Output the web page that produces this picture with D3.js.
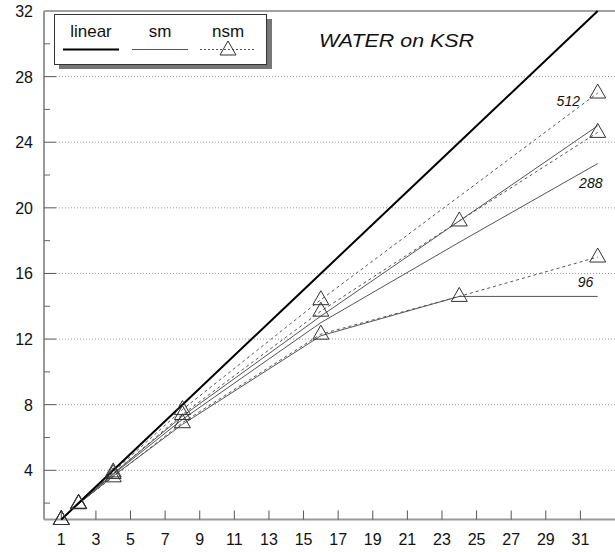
<!DOCTYPE html>
<html>
<head>
<meta charset="utf-8">
<script src="https://cdn.jsdelivr.net/npm/d3@7"></script>
<style>
  html, body { margin: 0; padding: 0; background: #fff; }
  svg { display: block; font-family: "Liberation Sans", Arial, Helvetica, sans-serif; }
</style>
</head>
<body>
<svg id="chart" width="615" height="552"></svg>
<script>
// Processor counts at which speedup was measured
const procs = [1, 2, 4, 8, 16, 24, 32];
const procsNsm512 = [1, 2, 4, 8, 16, 32];

// Ideal speedup
const linear = [1, 2, 4, 8, 16, 24, 32];

// Shared-memory (sm) speedups per problem size
const sm512 = [1, 1.97, 3.8, 7.3, 13.4, 19.2, 25.0];
const sm288 = [1, 1.96, 3.75, 7.1, 13.0, 17.9, 22.7];
const sm96  = [1, 1.95, 3.65, 6.8, 12.2, 14.6, 14.6];

// Non-shared-memory (nsm) speedups per problem size
const nsm512 = [1, 1.99, 3.9, 7.7, 14.4, 27.0];
const nsm288 = [1, 1.98, 3.8, 7.4, 13.7, 19.2, 24.6];
const nsm96  = [1, 1.96, 3.6, 6.9, 12.3, 14.6, 17.0];

// Axis ticks
const xTickLabels = [1, 3, 5, 7, 9, 11, 13, 15, 17, 19, 21, 23, 25, 27, 29, 31];
const yMajorTicks = [4, 8, 12, 16, 20, 24, 28];
const yMinorTicks = [2, 6, 10, 14, 18, 22, 26, 30];
const yLabels = [4, 8, 12, 16, 20, 24, 28, 32];

// Problem-size annotations: [text, x, y]
const sizeLabels = [["512", 30.3, 26.2], ["288", 31.6, 21.2], ["96", 31.3, 15.15]];

const svg = d3.select("#chart");
const plotLeft = 44, plotRight = 615, plotTop = 11, plotBottom = 519.5;

const x = d3.scaleLinear().domain([0, 33]).range([plotLeft, plotRight]);
const y = d3.scaleLinear().domain([1, 32]).range([plotBottom, plotTop]);

const g = svg.append("g");

// Dotted horizontal grid
g.selectAll(".grid").data(yMajorTicks).join("line")
  .attr("x1", plotLeft + 12).attr("x2", plotRight)
  .attr("y1", d => y(d)).attr("y2", d => y(d))
  .attr("stroke", "#999").attr("stroke-width", 1)
  .attr("stroke-dasharray", "1,2");

// Top frame line
g.append("line").attr("x1", plotLeft).attr("x2", plotRight)
  .attr("y1", plotTop).attr("y2", plotTop)
  .attr("stroke", "#444").attr("stroke-width", 1.2);

// Left axis
g.append("line").attr("x1", plotLeft).attr("x2", plotLeft)
  .attr("y1", plotTop).attr("y2", plotBottom)
  .attr("stroke", "#999").attr("stroke-width", 2);
g.selectAll(".ymaj").data(yMajorTicks).join("line")
  .attr("x1", plotLeft).attr("x2", plotLeft + 12)
  .attr("y1", d => y(d)).attr("y2", d => y(d))
  .attr("stroke", "#555").attr("stroke-width", 1);
g.selectAll(".ymin").data(yMinorTicks).join("line")
  .attr("x1", plotLeft).attr("x2", plotLeft + 6)
  .attr("y1", d => y(d)).attr("y2", d => y(d))
  .attr("stroke", "#666").attr("stroke-width", 1);
g.selectAll(".ylab").data(yLabels).join("text")
  .attr("x", 33).attr("y", d => y(d) + 6)
  .attr("text-anchor", "end")
  .attr("font-size", 16).attr("fill", "#111")
  .text(d => d);

// Bottom axis
g.append("line").attr("x1", plotLeft).attr("x2", plotRight)
  .attr("y1", plotBottom).attr("y2", plotBottom)
  .attr("stroke", "#999").attr("stroke-width", 2);
g.selectAll(".xt").data(xTickLabels).join("line")
  .attr("x1", d => x(d)).attr("x2", d => x(d))
  .attr("y1", plotBottom).attr("y2", plotBottom - 9)
  .attr("stroke", "#555").attr("stroke-width", 1);
g.selectAll(".xlab").data(xTickLabels).join("text")
  .attr("x", d => x(d)).attr("y", 545)
  .attr("text-anchor", "middle")
  .attr("font-size", 16).attr("fill", "#111")
  .text(d => d);

// Series
const lineGen = d3.line().x(d => x(d[0])).y(d => y(d[1]));
const zip = (xs, ys) => xs.map((v, i) => [v, ys[i]]);

const series = [
  { pts: zip(procs, sm512), dash: null, marks: false },
  { pts: zip(procs, sm288), dash: null, marks: false },
  { pts: zip(procs, sm96), dash: null, marks: false },
  { pts: zip(procsNsm512, nsm512), dash: "3,3", marks: true },
  { pts: zip(procs, nsm288), dash: "3,3", marks: true },
  { pts: zip(procs, nsm96), dash: "3,3", marks: true }
];

series.forEach(s => {
  g.append("path").attr("d", lineGen(s.pts))
    .attr("fill", "none").attr("stroke", "#555")
    .attr("stroke-width", 1)
    .attr("stroke-dasharray", s.dash);
});

g.append("path").attr("d", lineGen(zip(procs, linear)))
  .attr("fill", "none").attr("stroke", "#000").attr("stroke-width", 2);

const tri = "M0,-9L8,5L-8,5Z";
series.filter(s => s.marks).forEach(s => {
  g.selectAll(null).data(s.pts).join("path")
    .attr("d", tri)
    .attr("transform", d => `translate(${x(d[0])},${y(d[1])})`)
    .attr("fill", "none").attr("stroke", "#333").attr("stroke-width", 1);
});

// Problem-size labels
g.selectAll(".size").data(sizeLabels).join("text")
  .attr("x", d => x(d[1])).attr("y", d => y(d[2]))
  .attr("text-anchor", "middle")
  .attr("font-size", 14).attr("font-style", "italic").attr("fill", "#111")
  .text(d => d[0]);

// Title
g.append("text").attr("x", 319).attr("y", 47)
  .attr("font-size", 18).attr("font-style", "italic").attr("fill", "#111")
  .attr("textLength", 155).attr("lengthAdjust", "spacingAndGlyphs")
  .text("WATER on KSR");

// Legend with drop shadow
const lg = svg.append("g");
lg.append("rect").attr("x", 59).attr("y", 19).attr("width", 213).attr("height", 50)
  .attr("fill", "#777");
lg.append("rect").attr("x", 54.5).attr("y", 14.5).attr("width", 212).attr("height", 50)
  .attr("fill", "#fff").attr("stroke", "#333").attr("stroke-width", 1);

const legendItems = [
  { name: "linear", cx: 91, stroke: "#000", width: 2, dash: null, mark: false },
  { name: "sm", cx: 160, stroke: "#555", width: 1, dash: null, mark: false },
  { name: "nsm", cx: 228, stroke: "#555", width: 1, dash: "2,2", mark: true }
];
legendItems.forEach(it => {
  lg.append("text").attr("x", it.cx).attr("y", 37)
    .attr("text-anchor", "middle").attr("font-size", 17).attr("fill", "#111")
    .text(it.name);
  lg.append("line").attr("x1", it.cx - 28).attr("x2", it.cx + 28)
    .attr("y1", 49.5).attr("y2", 49.5)
    .attr("stroke", it.stroke).attr("stroke-width", it.width)
    .attr("stroke-dasharray", it.dash);
  if (it.mark) {
    lg.append("path").attr("d", tri)
      .attr("transform", `translate(${it.cx},${50})`)
      .attr("fill", "none").attr("stroke", "#333").attr("stroke-width", 1);
  }
});
</script>
</body>
</html>
